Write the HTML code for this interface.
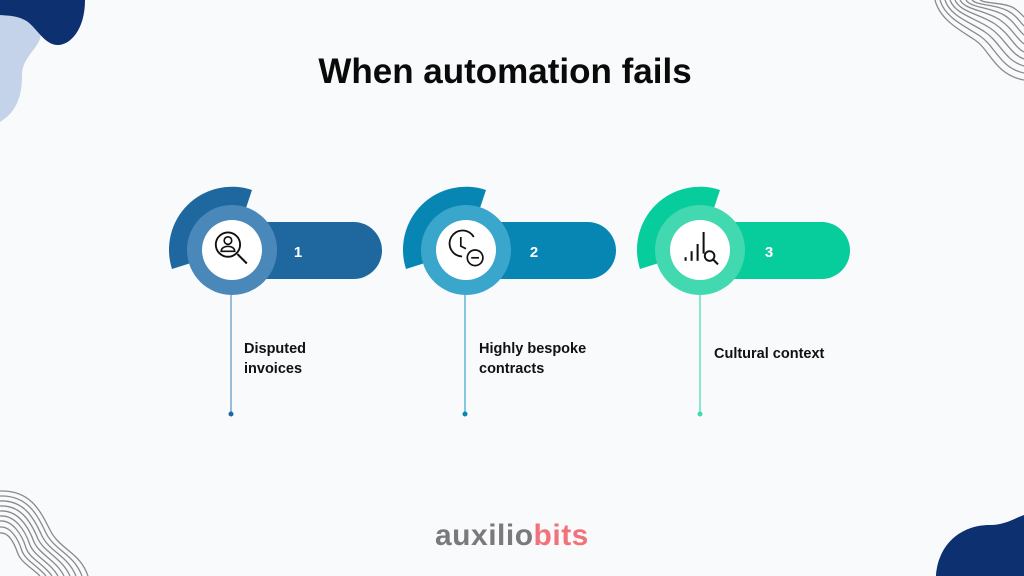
<!DOCTYPE html><html><head><style>
body{margin:0;width:1024px;height:576px;background:#f8fafc;overflow:hidden;position:relative;font-family:"Liberation Sans",sans-serif}
.t{position:absolute;font-weight:bold;font-size:14.5px;color:#111;line-height:20px}
</style></head><body>
<svg width="1024" height="576" style="position:absolute;left:0;top:0">
<path d="M0,0 L0,122 C20,110 22,90 22,75 C22,55 45,45 40,30 L30,0Z" fill="#c5d3ea"/>
<path d="M0,0 L85,0 C85,30 70,45 58,45 C45,45 38,30 28,22 C18,15 8,16 0,15Z" fill="#0d3070"/>
<path d="M1024,576 L936,576 C938,545 960,525 990,525 C1005,525 1015,518 1024,515Z" fill="#0d3070"/>
<g fill="none" stroke="#8a8a8a" stroke-width="1.3">
<path d="M935,0 C940,20 960,30 975,40 C990,50 995,75 1024,80"/>
<path d="M940,0 C945,18 965,26 980,36 C995,46 1000,68 1024,73"/>
<path d="M945,0 C950,16 970,22 985,32 C1000,42 1005,61 1024,66"/>
<path d="M950,0 C955,14 975,18 990,28 C1005,38 1010,54 1024,59"/>
<path d="M955,0 C960,12 980,14 995,24 C1010,34 1014,47 1024,52"/>
<path d="M960,0 C965,10 985,10 1000,20 C1012,28 1016,38 1024,44"/>
<path d="M966,0 C971,8 990,7 1004,15 C1014,21 1018,30 1024,35"/>
<path d="M972,0 C978,6 995,4 1008,11 C1016,15 1020,22 1024,26"/>
<path d="M980,0 C986,4 1000,2 1012,7 C1018,10 1021,14 1024,17"/>
<path d="M0,491 C30,490 40,510 50,530 C60,550 80,552 88,576"/>
<path d="M0,496 C27,495 37,514 46,533 C55,551 74,554 82,576"/>
<path d="M0,501 C24,500 34,518 42,536 C50,552 68,556 76,576"/>
<path d="M0,506 C21,505 31,522 38,539 C45,553 62,558 70,576"/>
<path d="M0,511 C18,510 28,526 34,542 C40,555 56,560 64,576"/>
<path d="M0,516 C15,515 25,530 30,545 C35,557 50,562 58,576"/>
<path d="M0,521 C12,520 22,534 26,548 C30,559 44,564 52,576"/>
<path d="M0,527 C10,526 18,538 22,551 C26,561 38,566 46,576"/>
<path d="M0,533 C8,532 14,542 18,554 C22,563 32,568 40,576"/>
</g>
<g>
<rect x="232" y="222" width="150" height="57" rx="28.5" fill="#1e689f"/>
<path d="M232,250 L172,269 A63,63 0 0 1 252,190Z" fill="#1e689f"/>
<circle cx="232" cy="250" r="45" fill="#4b88ba"/>
<circle cx="232" cy="250" r="30" fill="#fff"/>
<line x1="231" y1="295" x2="231" y2="413" stroke="#5c93c2" stroke-width="1.2"/><circle cx="231" cy="414" r="2.5" fill="#1e689f"/>
<text x="298" y="257" fill="#fff" font-weight="bold" font-size="15" text-anchor="middle">1</text>
<g transform="translate(232,250) scale(1.35) translate(-232,-250)">
<circle cx="229" cy="246" r="9" fill="none" stroke="#111" stroke-width="1.4"/>
<circle cx="229" cy="243" r="2.8" fill="none" stroke="#111" stroke-width="1.2"/>
<path d="M224,251 C224,246 234,246 234,251Z" fill="none" stroke="#111" stroke-width="1.2"/>
<line x1="236" y1="253" x2="243" y2="260" stroke="#111" stroke-width="1.5"/>
</g></g>
<g>
<rect x="466" y="222" width="150" height="57" rx="28.5" fill="#0786b4"/>
<path d="M466,250 L406,269 A63,63 0 0 1 486,190Z" fill="#0786b4"/>
<circle cx="466" cy="250" r="45" fill="#3aa6cc"/>
<circle cx="466" cy="250" r="30" fill="#fff"/>
<line x1="465" y1="295" x2="465" y2="413" stroke="#3aa6cc" stroke-width="1.2"/><circle cx="465" cy="414" r="2.5" fill="#0786b4"/>
<text x="534" y="257" fill="#fff" font-weight="bold" font-size="15" text-anchor="middle">2</text>
<g transform="translate(466,250) scale(1.3) translate(-466,-250)">
<path d="M472,240 A10,10 0 1 0 463,255" fill="none" stroke="#111" stroke-width="1.4"/>
<path d="M462,240 L462,247 L466,249" fill="none" stroke="#111" stroke-width="1.3"/>
<circle cx="473" cy="256" r="6" fill="none" stroke="#111" stroke-width="1.3"/>
<line x1="470" y1="256" x2="476" y2="256" stroke="#111" stroke-width="1.3"/>
</g></g>
<g>
<rect x="700" y="222" width="150" height="57" rx="28.5" fill="#07cc9c"/>
<path d="M700,250 L640,269 A63,63 0 0 1 720,190Z" fill="#07cc9c"/>
<circle cx="700" cy="250" r="45" fill="#42d8b0"/>
<circle cx="700" cy="250" r="30" fill="#fff"/>
<line x1="700" y1="295" x2="700" y2="413" stroke="#42d8b0" stroke-width="1.2"/><circle cx="700" cy="414" r="2.5" fill="#42d8b0"/>
<text x="769" y="257" fill="#fff" font-weight="bold" font-size="15" text-anchor="middle">3</text>
<g transform="translate(700,250) scale(1.2) translate(-700,-250)">
<g stroke="#111" stroke-width="1.7"><line x1="688" y1="259" x2="688" y2="256"/><line x1="693" y1="259" x2="693" y2="251"/><line x1="698" y1="259" x2="698" y2="245"/><line x1="703" y1="253" x2="703" y2="235"/><line x1="711" y1="258" x2="715" y2="262"/></g>
<circle cx="708" cy="255" r="4" fill="none" stroke="#111" stroke-width="1.6"/>
</g></g>
</svg>
<div style="position:absolute;left:0;width:1010px;top:52px;text-align:center;font-size:35px;font-weight:bold;color:#0a0a0a">When automation fails</div>
<div class="t" style="left:244px;top:339px">Disputed<br>invoices</div>
<div class="t" style="left:479px;top:339px">Highly bespoke<br>contracts</div>
<div class="t" style="left:714px;top:344px">Cultural context</div>
<div style="position:absolute;left:435px;top:519px;font-size:30px;font-weight:bold;letter-spacing:0.5px"><span style="color:#7a7a7a">auxilio</span><span style="color:#f2727a">bits</span></div>
</body></html>
